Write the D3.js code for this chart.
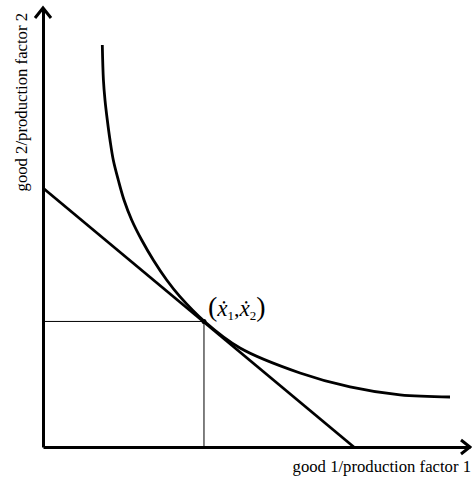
<!DOCTYPE html>
<html><head><meta charset="utf-8">
<script src="https://cdn.jsdelivr.net/npm/d3@7/dist/d3.min.js"></script>
<style>body{margin:0;background:#fff}svg{display:block}</style>
</head><body>
<svg id="c" width="472" height="479"></svg>
<script>
// Indifference curve (x, y) in axis units 0..100
const curveX = [13.89, 14.15, 14.52, 15.06, 15.69, 16.46, 17.63, 18.97, 20.77, 23.11, 25.83, 28.97, 32.08, 37.70, 46.14, 60.19, 71.90, 83.61, 95.32];
const curveY = [91.57, 83.60, 79.04, 74.49, 69.93, 65.38, 60.82, 56.26, 51.71, 47.15, 42.60, 38.04, 34.24, 28.70, 22.55, 16.86, 13.67, 11.85, 11.39];
// Budget line endpoints
const budgetX = [0, 72.8];
const budgetY = [59.0, 0];
// Optimum point
const optimum = [37.7, 28.6];
const xLabel = "good 1/production factor 1";
const yLabel = "good 2/production factor 2";

const serif = "'Liberation Serif','Times New Roman',serif";
const svg = d3.select("#c");
const x = d3.scaleLinear().domain([0, 100]).range([43, 470]);
const y = d3.scaleLinear().domain([0, 100]).range([447, 8]);

// axes
svg.append("g").attr("transform", `translate(0,${y(0)})`)
  .call(d3.axisBottom(x).tickValues([]).tickSizeOuter(0));
svg.append("g").attr("transform", `translate(${x(0)},0)`)
  .call(d3.axisLeft(y).tickValues([]).tickSizeOuter(0));
svg.selectAll(".domain").attr("stroke", "#000").attr("stroke-width", 3);

// arrowheads
const line = d3.line();
svg.append("path").attr("d", line([[x(0)-8, y(100)+10],[x(0), y(100)],[x(0)+8, y(100)+10]]))
  .attr("fill","none").attr("stroke","#000").attr("stroke-width",3);
svg.append("path").attr("d", line([[x(100)-9, y(0)-7],[x(100), y(0)],[x(100)-9, y(0)+7]]))
  .attr("fill","none").attr("stroke","#000").attr("stroke-width",3);

// guide lines
svg.append("path").attr("d", line([[x(0), y(optimum[1])],[x(optimum[0]), y(optimum[1])],[x(optimum[0]), y(0)]]))
  .attr("fill","none").attr("stroke","#000").attr("stroke-width",1);

// budget line
svg.append("path").attr("d", d3.line().x(d=>x(d[0])).y(d=>y(d[1]))(budgetX.map((v,i)=>[v,budgetY[i]])))
  .attr("fill","none").attr("stroke","#000").attr("stroke-width",2.8);

// indifference curve
svg.append("path").attr("d", d3.line().x(d=>x(d[0])).y(d=>y(d[1])).curve(d3.curveCatmullRom.alpha(0.5))(curveX.map((v,i)=>[v,curveY[i]])))
  .attr("fill","none").attr("stroke","#000").attr("stroke-width",2.8);

// optimum point
svg.append("circle").attr("cx", x(optimum[0])).attr("cy", y(optimum[1])).attr("r", 2.5).attr("fill","#000");

// label
const ox = x(optimum[0]), oy = y(optimum[1]);
const lab = svg.append("text").attr("x", ox+4).attr("y", oy-5).attr("font-family", serif).attr("fill","#000");
lab.append("tspan").attr("font-size", 28).text("(");
lab.append("tspan").attr("font-size", 23).attr("font-style","italic").text("ẋ");
lab.append("tspan").attr("font-size", 13).attr("dy", 4).text("1");
lab.append("tspan").attr("font-size", 22).attr("dy", -4).text(",");
lab.append("tspan").attr("font-size", 23).attr("font-style","italic").text("ẋ");
lab.append("tspan").attr("font-size", 13).attr("dy", 4).text("2");
lab.append("tspan").attr("font-size", 28).attr("dy", -4).text(")");

// axis labels
svg.append("text").attr("x", 471).attr("y", 472).attr("text-anchor","end")
  .attr("font-family", serif).attr("font-size", 16.7).text(xLabel);
svg.append("text").attr("transform", "translate(27,13) rotate(-90)").attr("text-anchor","end")
  .attr("font-family", serif).attr("font-size", 16.7).text(yLabel);
</script>
</body></html>
